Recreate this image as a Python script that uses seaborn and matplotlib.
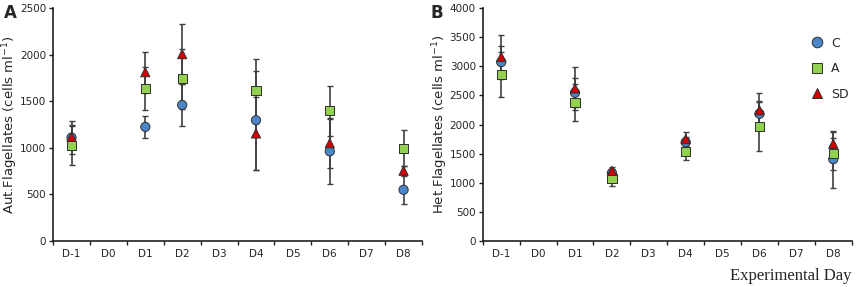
import numpy as np
import pandas as pd
import matplotlib
matplotlib.use("Agg")
import matplotlib.pyplot as plt
import seaborn as sns

days = ["D-1", "D0", "D1", "D2", "D3", "D4", "D5", "D6", "D7", "D8"]
sampled_days = ["D-1", "D1", "D2", "D4", "D6", "D8"]
treatments = ["C", "A", "SD"]

# Panel A: autotrophic flagellates (cells ml-1)
aut_C = [1110, 1225, 1460, 1297, 963, 550]
aut_C_err = [180, 115, 230, 530, 350, 150]
aut_A = [1028, 1640, 1740, 1612, 1398, 996]
aut_A_err = [210, 230, 320, 345, 270, 195]
aut_SD = [1118, 1812, 2006, 1155, 1050, 755]
aut_SD_err = [130, 220, 325, 390, 270, 50]

# Panel B: heterotrophic flagellates (cells ml-1)
het_C = [3072, 2545, 1170, 1696, 2185, 1405]
het_C_err = [270, 250, 70, 90, 220, 490]
het_A = [2860, 2375, 1080, 1532, 1962, 1497]
het_A_err = [390, 320, 130, 140, 420, 270]
het_SD = [3160, 2620, 1205, 1750, 2245, 1670]
het_SD_err = [380, 370, 60, 115, 295, 200]

colors = {"C": "#4a86c8", "A": "#92d050", "SD": "#d40000"}
markers = {"C": "o", "A": "s", "SD": "^"}


def build(vals, errs):
    rows = []
    for t, v, e in zip(treatments, vals, errs):
        for d, vv, ee in zip(sampled_days, v, e):
            rows.append({"day": d, "pos": days.index(d), "treatment": t,
                         "value": vv, "err": ee})
    return pd.DataFrame(rows)


dfA = build([aut_C, aut_A, aut_SD], [aut_C_err, aut_A_err, aut_SD_err])
dfB = build([het_C, het_A, het_SD], [het_C_err, het_A_err, het_SD_err])

sns.set_style("ticks")
plt.rcParams["font.family"] = ["DejaVu Sans"]

fig = plt.figure(figsize=(8.56, 2.87), dpi=100)
axA = fig.add_axes([0.062, 0.160, 0.431, 0.812])
axB = fig.add_axes([0.564, 0.160, 0.431, 0.812])


def draw(ax, df, ymax, ylabel, legend):
    for t in treatments:
        sub = df[df.treatment == t]
        ax.errorbar(sub.pos, sub.value, yerr=sub.err, fmt="none",
                    ecolor="#404040", elinewidth=1.2, capsize=2,
                    capthick=1.0, zorder=2)
    sns.scatterplot(data=df, x="pos", y="value", hue="treatment",
                    style="treatment", hue_order=treatments,
                    style_order=treatments, palette=colors, markers=markers,
                    s=44, edgecolor="#303030", linewidth=0.7, ax=ax,
                    legend=legend, zorder=3)
    ax.set_xlim(-0.5, len(days) - 0.5)
    ax.set_ylim(0, ymax)
    ax.set_xticks(np.arange(len(days)))
    ax.set_xticklabels(days, fontsize=7.5)
    ax.tick_params(axis="x", which="major", length=0, pad=6)
    ax.set_xticks(np.arange(len(days) + 1) - 0.5, minor=True)
    ax.tick_params(axis="x", which="minor", length=3, width=1,
                   direction="out", color="#202020")
    ax.tick_params(axis="y", labelsize=7.5, length=3, width=1, pad=2,
                   color="#202020")
    ax.set_yticks(np.arange(0, ymax + 1, 500))
    ax.set_xlabel("")
    ax.set_ylabel(ylabel, fontsize=9.5)
    ax.yaxis.set_label_coords(-0.089, 0.5)
    for s in ["top", "right"]:
        ax.spines[s].set_visible(False)
    for s in ["left", "bottom"]:
        ax.spines[s].set_linewidth(1.2)
        ax.spines[s].set_color("#202020")


draw(axA, dfA, 2500, "Aut.Flagellates (cells ml$^{-1}$)", False)
draw(axB, dfB, 4000, "Het.Flagellates (cells ml$^{-1}$)", True)

leg = axB.legend(loc="upper right", bbox_to_anchor=(1.012, 0.91), frameon=False,
                 fontsize=9, handletextpad=0.4, labelspacing=1.0,
                 markerscale=1.15, borderaxespad=0.2, handlelength=1.5)

axB.text(1.0, -0.115, "Experimental Day", transform=axB.transAxes,
         ha="right", va="top", fontsize=12, family="Liberation Serif")

fig.text(0.005, 0.985, "A", fontsize=12, fontweight="bold", va="top")
fig.text(0.503, 0.985, "B", fontsize=12, fontweight="bold", va="top")

fig.savefig("out.png", dpi=100)
